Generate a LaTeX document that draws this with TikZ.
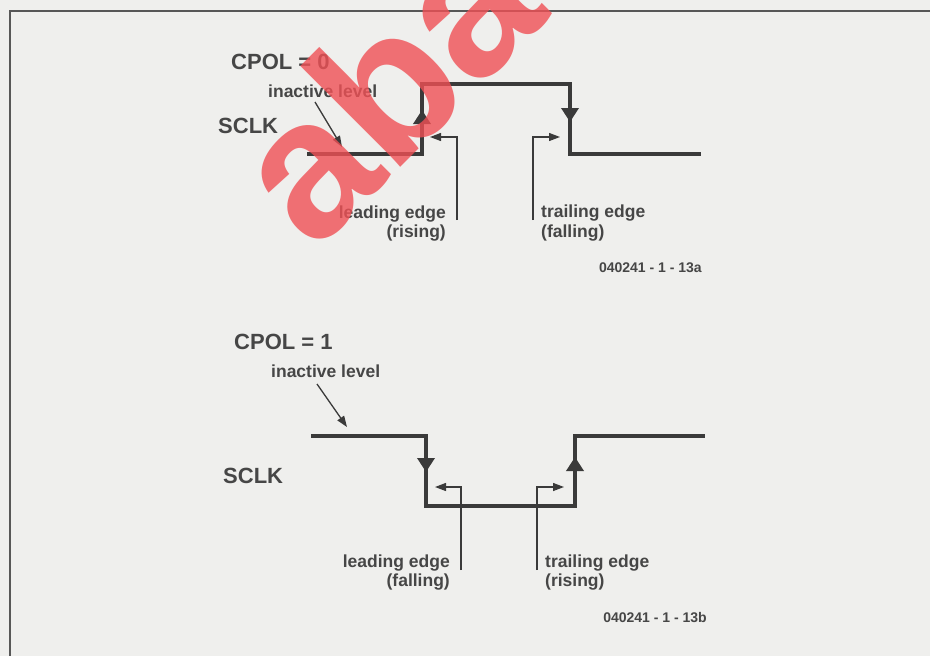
\documentclass[tikz,border=0pt]{standalone}
\usepackage{fontspec}
\setmainfont{Liberation Sans}
\usetikzlibrary{arrows.meta}
\definecolor{bg}{RGB}{239,239,237}
\definecolor{ink}{RGB}{58,58,58}
\definecolor{txt}{RGB}{70,70,70}
\definecolor{wm}{RGB}{240,80,85}
\begin{document}
\begin{tikzpicture}[x=1pt,y=-1pt,
  wave/.style={draw=ink,line width=4pt,line join=miter},
  thinline/.style={draw=ink,line width=1.3pt},
  midarr/.style={draw=ink,fill=ink,line width=4pt,-{Triangle[length=14pt,width=17pt]}},
  smallarr/.style={thinline,-{Triangle[length=11pt,width=8pt]}},
  lbl/.style={font=\bfseries\fontsize{17.5}{20}\selectfont,text=txt,inner sep=0pt},
  big/.style={font=\bfseries\fontsize{22}{24}\selectfont,text=txt,inner sep=0pt},
  codelbl/.style={font=\bfseries\fontsize{14}{16}\selectfont,text=txt,inner sep=0pt}]
\useasboundingbox[fill=bg] (0,0) rectangle (930,656);

% frame
\coordinate (fr1) at (930,11);
\coordinate (fr2) at (10,11);
\coordinate (fr3) at (10,656);
\draw[ink!85,line width=1.8pt] (fr1) -- (fr2) -- (fr3);

% ---------- CPOL = 0 ----------
\coordinate (a0) at (307,154);
\coordinate (a1) at (422,154);
\coordinate (a2) at (422,84);
\coordinate (a3) at (570,84);
\coordinate (a4) at (570,154);
\coordinate (a5) at (701,154);
\draw[wave] (a0) -- (a1) -- (a2) -- (a3) -- (a4) -- (a5);
\coordinate (ar1s) at (422,140);
\coordinate (ar1t) at (422,110);
\draw[midarr] (ar1s) -- (ar1t);
\coordinate (ar2s) at (570,95);
\coordinate (ar2t) at (570,122);
\draw[midarr] (ar2s) -- (ar2t);

\node[big,anchor=base west] (cpol0) at (231,69) {CPOL = 0};
\node[lbl,anchor=base west] (inact0) at (268,97) {inactive level};
\node[big,anchor=base west] (sclk0) at (218,133) {SCLK};
\node[lbl,anchor=base east] (lead0) at (446,218) {leading edge};
\node[lbl,anchor=base east] (lead0b) at (446,237) {(rising)};
\node[lbl,anchor=base west] (trail0) at (541,217) {trailing edge};
\node[lbl,anchor=base west] (trail0b) at (541,237) {(falling)};
\node[codelbl,anchor=base east] (code0) at (702,272) {040241 - 1 - 13a};

\coordinate (ia0s) at (315,102);
\coordinate (ia0t) at (342,147);
\draw[smallarr] (ia0s) -- (ia0t);
\coordinate (l0a) at (457,220);
\coordinate (l0b) at (457,137);
\coordinate (l0c) at (430,137);
\draw[smallarr] (l0a) -- (l0b) -- (l0c);
\coordinate (t0a) at (533,220);
\coordinate (t0b) at (533,137);
\coordinate (t0c) at (560,137);
\draw[smallarr] (t0a) -- (t0b) -- (t0c);

% ---------- CPOL = 1 ----------
\coordinate (b0) at (311,436);
\coordinate (b1) at (426,436);
\coordinate (b2) at (426,506);
\coordinate (b3) at (575,506);
\coordinate (b4) at (575,436);
\coordinate (b5) at (705,436);
\draw[wave] (b0) -- (b1) -- (b2) -- (b3) -- (b4) -- (b5);
\coordinate (br1s) at (426,445);
\coordinate (br1t) at (426,472);
\draw[midarr] (br1s) -- (br1t);
\coordinate (br2s) at (575,490);
\coordinate (br2t) at (575,457);
\draw[midarr] (br2s) -- (br2t);

\node[big,anchor=base west] (cpol1) at (234,349) {CPOL = 1};
\node[lbl,anchor=base west] (inact1) at (271,377) {inactive level};
\node[big,anchor=base west] (sclk1) at (223,483) {SCLK};
\node[lbl,anchor=base east] (lead1) at (450,567) {leading edge};
\node[lbl,anchor=base east] (lead1b) at (450,586) {(falling)};
\node[lbl,anchor=base west] (trail1) at (545,567) {trailing edge};
\node[lbl,anchor=base west] (trail1b) at (545,586) {(rising)};
\node[codelbl,anchor=base east] (code1) at (707,622) {040241 - 1 - 13b};

\coordinate (ia1s) at (317,384);
\coordinate (ia1t) at (347,427);
\draw[smallarr] (ia1s) -- (ia1t);
\coordinate (l1a) at (461,570);
\coordinate (l1b) at (461,487);
\coordinate (l1c) at (435,487);
\draw[smallarr] (l1a) -- (l1b) -- (l1c);
\coordinate (t1a) at (537,570);
\coordinate (t1b) at (537,487);
\coordinate (t1c) at (564,487);
\draw[smallarr] (t1a) -- (t1b) -- (t1c);

% watermark
\node[anchor=base west,rotate=45,inner sep=0pt,text=wm,text opacity=0.8,
      font=\bfseries\fontsize{196}{196}\selectfont] (wmark) at (314,254) {aba};
\end{tikzpicture}
\end{document}
